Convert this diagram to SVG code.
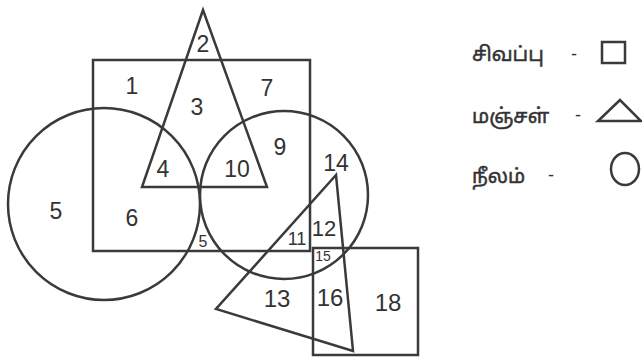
<svg xmlns="http://www.w3.org/2000/svg" width="642" height="358" viewBox="0 0 642 358">
<style>
.s{fill:none;stroke:#3a3a3a;stroke-width:2.5;stroke-linejoin:miter}
.n{font-family:"Liberation Sans",Arial,sans-serif;font-size:23px;fill:#333;text-anchor:middle}
.t{font-family:"Noto Sans Tamil","Noto Serif Tamil","Lohit Tamil","Latha",sans-serif;font-size:20px;fill:#333;stroke:#333;stroke-width:0.5}
.d{font-family:"Liberation Sans",Arial,sans-serif;font-size:18px;fill:#333}
</style>
<rect width="642" height="358" fill="#ffffff"/>
<g id="shapes">
<rect id="red-square" class="s" x="93" y="60" width="217" height="191"/>
<polygon id="yellow-triangle" class="s" points="203,10 142,187 267,187"/>
<circle id="blue-circle-left" class="s" cx="104" cy="204" r="96"/>
<circle id="blue-circle-right" class="s" cx="284" cy="195" r="84"/>
<rect id="red-square-2" class="s" x="313" y="248" width="105" height="107"/>
<polygon id="yellow-triangle-2" class="s" points="336,175 216,309 353,351"/>
</g>
<g id="labels">
<text class="n" x="132" y="94">1</text>
<text class="n" x="203" y="52">2</text>
<text class="n" x="197" y="115">3</text>
<text class="n" x="267" y="96">7</text>
<text class="n" x="280" y="155">9</text>
<text class="n" x="163" y="177">4</text>
<text class="n" x="237" y="177">10</text>
<text class="n" x="336" y="171">14</text>
<text class="n" x="56" y="219">5</text>
<text class="n" x="132" y="226">6</text>
<text class="n" x="203" y="247" style="font-size:16px">5</text>
<text class="n" x="297" y="245" style="font-size:18px">11</text>
<text class="n" x="324" y="236" style="font-size:22px">12</text>
<text class="n" x="323" y="261" style="font-size:14px">15</text>
<text class="n" x="277" y="307" style="font-size:24px">13</text>
<text class="n" x="330" y="306" style="font-size:24px">16</text>
<text class="n" x="388" y="311" style="font-size:24px">18</text>
</g>
<g id="legend">
<text class="t" x="472" y="61">சிவப்பு</text>
<text class="d" x="571" y="60">-</text>
<rect class="s" x="602" y="42" width="23" height="21"/>
<text class="t" x="472" y="123">மஞ்சள்</text>
<text class="d" x="575" y="121">-</text>
<polygon class="s" points="620,100 598,121 641,121"/>
<text class="t" x="472" y="183">நீலம்</text>
<text class="d" x="548" y="181">-</text>
<ellipse class="s" cx="625" cy="169" rx="14" ry="16"/>
</g>
</svg>
